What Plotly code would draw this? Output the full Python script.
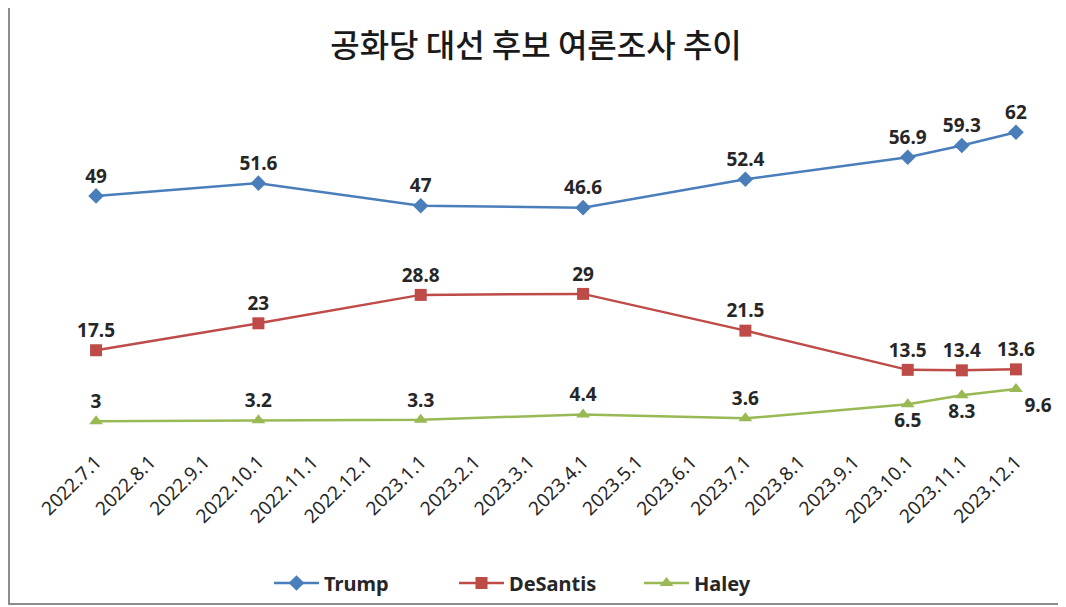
import plotly.graph_objects as go

categories = ["2022.7.1", "2022.8.1", "2022.9.1", "2022.10.1", "2022.11.1", "2022.12.1",
              "2023.1.1", "2023.2.1", "2023.3.1", "2023.4.1", "2023.5.1", "2023.6.1",
              "2023.7.1", "2023.8.1", "2023.9.1", "2023.10.1", "2023.11.1", "2023.12.1"]
survey_dates = ["2022.7.1", "2022.10.1", "2023.1.1", "2023.4.1", "2023.7.1",
                "2023.10.1", "2023.11.1", "2023.12.1"]
trump = [49, 51.6, 47, 46.6, 52.4, 56.9, 59.3, 62]
desantis = [17.5, 23, 28.8, 29, 21.5, 13.5, 13.4, 13.6]
haley = [3, 3.2, 3.3, 4.4, 3.6, 6.5, 8.3, 9.6]

W, H = 1066, 607
OX, OY = 7, 7  # page offset
ML, MR = 68 - OX, 24 + OX
MT, MB = 92 - OY, 607 - (435 - OY)
pw, ph = W - ML - MR, H - MT - MB
Y0 = 435 - OY  # pixel of y=0 in figure coords

def px_x(x):
    return (x - OX - ML) / pw

def px_y(y):
    return (Y0 - (y - OY)) / ph

lab_font = dict(family="Noto Sans, DejaVu Sans, sans-serif", size=19, color="#262626", weight="bold")

fig = go.Figure()
fig.add_trace(go.Scatter(
    x=survey_dates, y=trump, name="Trump", mode="lines+markers+text",
    line=dict(color="#4A7EBB", width=2.5),
    marker=dict(symbol="diamond", size=12, color="#4A7EBB"),
    text=[str(v) for v in trump], textposition="top center", textfont=lab_font,
    cliponaxis=False,
))
fig.add_trace(go.Scatter(
    x=survey_dates, y=desantis, name="DeSantis", mode="lines+markers+text",
    line=dict(color="#BE4B48", width=2.5),
    marker=dict(symbol="square", size=12, color="#BE4B48"),
    text=[str(v) for v in desantis], textposition="top center", textfont=lab_font,
    cliponaxis=False,
))
fig.add_trace(go.Scatter(
    x=survey_dates, y=haley, name="Haley", mode="lines+markers+text",
    line=dict(color="#98B954", width=2.5),
    marker=dict(symbol="triangle-up", size=12, color="#98B954"),
    text=[str(v) for v in haley],
    textposition=["top center"] * 5 + ["bottom center", "bottom center", "bottom right"],
    textfont=lab_font,
    cliponaxis=False,
))

fig.update_layout(
    width=W, height=H,
    margin=dict(l=ML, r=MR, t=MT, b=MB),
    paper_bgcolor="white", plot_bgcolor="white",
    title=dict(text="공화당 대선 후보 여론조사 추이", x=(535 - OX) / W, xanchor="center",
               y=1 - (45 - OY) / H, yanchor="middle",
               font=dict(family="Noto Sans CJK KR", size=32, color="#1a1a1a", weight=500)),
    xaxis=dict(type="category", categoryorder="array", categoryarray=categories,
               range=[-0.5, 17.5], showgrid=False, zeroline=False, showline=False,
               tickangle=-45, ticks="", ticklabelstandoff=10,
               tickfont=dict(family="Noto Sans, DejaVu Sans, sans-serif", size=19, color="#262626")),
    yaxis=dict(range=[0, 70], visible=False),
    showlegend=True,
    legend=dict(orientation="h", x=px_x(268), xanchor="left", y=px_y(582), yanchor="middle",
                font=dict(family="Noto Sans, DejaVu Sans, sans-serif", size=20, color="#262626", weight="bold"),
                entrywidth=125, entrywidthmode="pixels", itemwidth=45, tracegroupgap=0),
    shapes=[dict(type="rect", xref="paper", yref="paper",
                 x0=px_x(8), x1=px_x(1062),
                 y0=px_y(603), y1=px_y(5),
                 line=dict(color="#8c8c8c", width=2), fillcolor="rgba(0,0,0,0)", layer="below")],
)

fig.write_html("out.html")
